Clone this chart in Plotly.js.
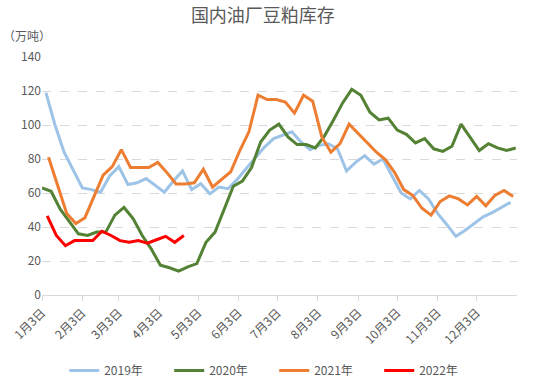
<!DOCTYPE html>
<html>
<head>
<meta charset="utf-8">
<script src="https://cdn.plot.ly/plotly-3.0.1.min.js"></script>
<style>
  html, body { margin: 0; padding: 0; background: #ffffff; }
  #chart { width: 535px; height: 380px; }
</style>
</head>
<body>
<div id="chart"></div>
<script>
// ---- Data (万吨), weekly observations ----
const seriesNames = ['2019年', '2020年', '2021年', '2022年'];
const seriesStarts = ['2019-01-06', '2020-01-03', '2021-01-08', '2022-01-07'];

const values2019 = [119, 100, 84, 73, 63, 62, 60.5, 70, 75.5, 65, 66, 68.5, 64.5, 60.5, 67, 73,
  62, 65.5, 59.5, 63.5, 62.5, 68, 74.5, 81, 87, 92, 94, 96, 90, 85.5, 88, 89, 86, 73, 78, 82,
  77, 80, 70, 60, 56.5, 61.5, 56.5, 48, 41.5, 34.5, 38, 42, 46, 48.5, 51.5, 54.5];

const values2020 = [63, 61, 50.5, 43, 36, 35, 37, 37, 47, 51.5, 45, 35, 27, 17.5, 16, 14, 16.5,
  18.5, 31, 37, 51, 64, 67, 75, 90, 97, 100.5, 93, 88.5, 88.5, 86.5, 93.5, 103, 113, 121, 117.5,
  107.5, 103, 104, 97, 94.5, 89.5, 92, 86, 84.5, 87.5, 100.5, 93, 85, 89, 86.5, 85, 86.5];

const values2021 = [81, 64, 48, 42, 45.5, 58, 70.5, 75.5, 85.5, 75, 75, 75, 78, 72, 65.3, 65.3,
  66, 74, 63.5, 68, 72.5, 85, 96, 117.5, 115, 115, 113.5, 107, 117.5, 114, 93, 84, 89, 100.5,
  95, 90, 84, 79.5, 72, 62, 58.5, 51, 47, 55, 58.3, 56.5, 53, 58, 52.5, 58.5, 61.5, 58];

const values2022 = [46.5, 35, 29, 32, 32, 32, 37.5, 35, 32, 31, 32, 30.5, 32.5, 34.5, 31, 35];

const seriesValues = [values2019, values2020, values2021, values2022];
const seriesColors = ['#9DC3E6', '#548235', '#ED7D31', '#FF0000'];

// x-axis: days after 3 Jan, one tick per month
const tickDays = [0, 31, 59, 90, 120, 151, 181, 212, 243, 273, 304, 334];
const tickLabels = ['1月3日', '2月3日', '3月3日', '4月3日', '5月3日', '6月3日',
  '7月3日', '8月3日', '9月3日', '10月3日', '11月3日', '12月3日'];
const yTicks = [0, 20, 40, 60, 80, 100, 120, 140];

function dayOffsets(start, n) {
  const s = new Date(start + 'T00:00:00Z');
  const base = Date.UTC(s.getUTCFullYear(), 0, 3);
  const out = [];
  for (let i = 0; i < n; i++) out.push((s.getTime() + i * 7 * 864e5 - base) / 864e5);
  return out;
}

const FONT = '"Noto Sans CJK SC", "Noto Sans", sans-serif';
const GREY = '#595959';

const traces = seriesNames.map((name, k) => ({
  type: 'scatter',
  mode: 'lines',
  name: name,
  x: dayOffsets(seriesStarts[k], seriesValues[k].length),
  y: seriesValues[k],
  line: { color: seriesColors[k], width: 3 },
  hoverinfo: 'skip'
}));

const layout = {
  width: 535,
  height: 380,
  paper_bgcolor: '#ffffff',
  plot_bgcolor: '#ffffff',
  margin: { l: 42, r: 18, t: 57, b: 85 },
  font: { family: FONT, color: GREY, size: 12 },
  title: {
    text: '国内油厂豆粕库存',
    font: { family: FONT, size: 18, color: GREY },
    x: 0.465, xref: 'paper', xanchor: 'center',
    y: 0.96, yanchor: 'middle'
  },
  showlegend: true,
  legend: {
    orientation: 'h',
    x: 0.12, xanchor: 'left', xref: 'container',
    y: 0.025, yanchor: 'middle', yref: 'container',
    font: { family: FONT, size: 12, color: GREY },
    entrywidth: 60, entrywidthmode: 'pixels',
    itemwidth: 30
  },
  xaxis: {
    type: 'linear',
    range: [0, 365],
    tickmode: 'array',
    tickvals: tickDays,
    ticktext: tickLabels,
    tickangle: -45,
    ticks: 'outside',
    ticklen: 5,
    tickcolor: '#D9D9D9',
    showline: true,
    linecolor: '#D9D9D9',
    linewidth: 1,
    showgrid: false,
    zeroline: false,
    tickfont: { family: FONT, size: 12, color: GREY },
    fixedrange: true
  },
  yaxis: {
    range: [0, 140],
    tickmode: 'array',
    tickvals: yTicks,
    showgrid: true,
    gridcolor: '#D9D9D9',
    griddash: 'dash',
    gridwidth: 1,
    zeroline: false,
    showline: false,
    ticks: '',
    tickfont: { family: FONT, size: 12, color: GREY },
    fixedrange: true
  },
  annotations: [{
    text: '（万吨）',
    xref: 'paper', yref: 'paper',
    x: -0.086, y: 1.09,
    xanchor: 'left', yanchor: 'middle',
    showarrow: false,
    font: { family: FONT, size: 12, color: GREY }
  }]
};

Plotly.newPlot('chart', traces, layout, { displayModeBar: false, staticPlot: true });
</script>
</body>
</html>
